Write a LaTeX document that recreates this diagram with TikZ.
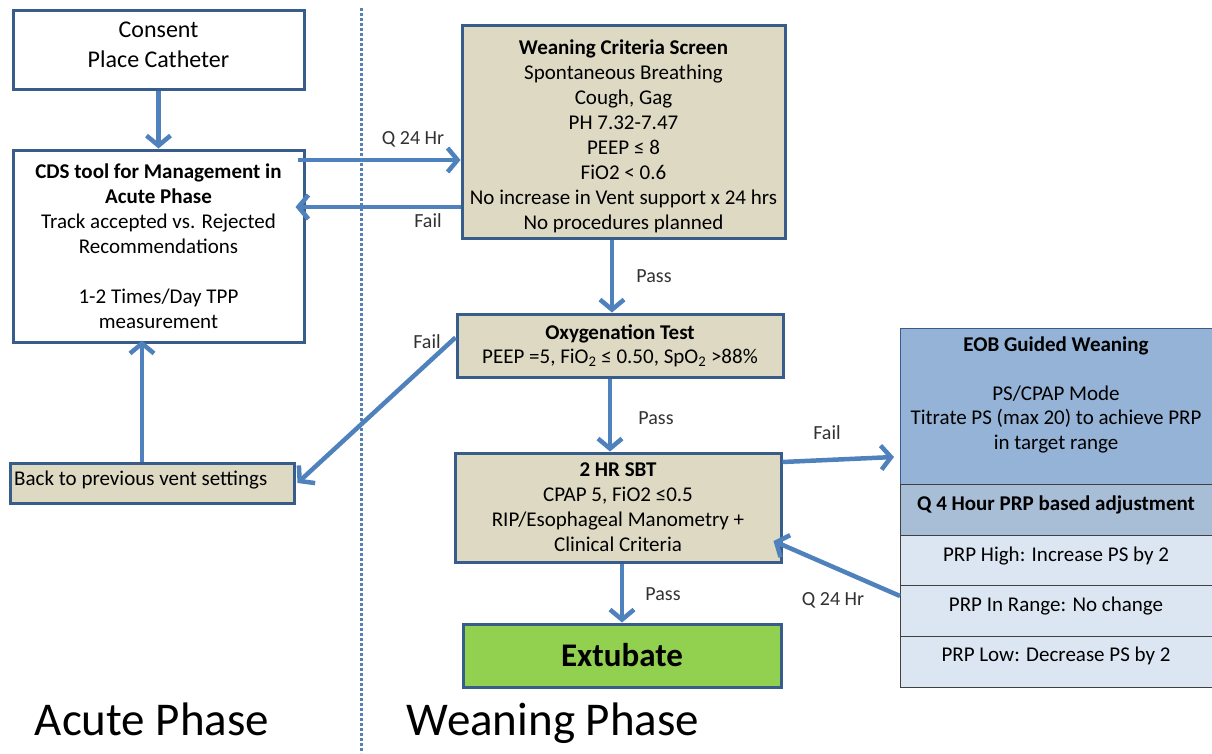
\documentclass[tikz,border=0pt]{standalone}
\usepackage{fontspec}
\setmainfont{Carlito}
\usetikzlibrary{arrows.meta,calc}
\definecolor{boxc}{RGB}{56,93,138}
\definecolor{arrc}{RGB}{79,129,189}
\definecolor{tan}{RGB}{221,217,195}
\definecolor{grn}{RGB}{146,208,80}
\definecolor{eobc}{RGB}{149,179,215}
\definecolor{qc}{RGB}{168,189,214}
\definecolor{cellc}{RGB}{220,230,242}
\definecolor{labc}{RGB}{50,50,50}
\begin{document}
\begin{tikzpicture}[x=1pt,y=-1pt,
  box/.style={draw=boxc,line width=3pt,inner sep=0pt,align=center,font=\fontsize{21}{25}\selectfont},
  tanbox/.style={box,fill=tan},
  txt/.style={inner sep=0pt,align=center,font=\fontsize{21}{25}\selectfont},
  cell/.style={draw=black!75,line width=1pt,inner sep=0pt,anchor=north west},
  arr/.style={draw=arrc,line width=4.5pt,-{Straight Barb[length=10pt,width=24pt]}},
  lab/.style={text=labc,font=\fontsize{20}{24}\selectfont,inner sep=0pt},
  phase/.style={font=\fontsize{47}{56}\selectfont,inner sep=0pt,anchor=base}]
\useasboundingbox (0,0) rectangle (1212,753);
\fill[white] (0,0) rectangle (1212,753);
% divider
\draw[arrc!85!gray,line width=3pt,dotted] (361,8) -- (361,753);
% coordinates for connector heights / positions
\coordinate (y160) at (0,160);
\coordinate (y207) at (0,207);
\coordinate (y462) at (0,462);
\coordinate (y457) at (0,457);
\coordinate (y596) at (0,596);
\coordinate (y541) at (0,541);
\coordinate (x142) at (142,0);
\coordinate (x612) at (612,0);
\coordinate (x610) at (610,0);
\coordinate (x622) at (622,0);
% boxes
\node[box,fill=white,minimum width=291pt,minimum height=79pt] (consent) at (158.5,49.5) {};
\node[txt,font=\fontsize{24}{30}\selectfont] (consenttxt) at (158.5,45) {Consent\\Place Catheter};
\node[box,fill=white,minimum width=291pt,minimum height=192pt] (cds) at (158.5,246)
  {\textbf{CDS tool for Management in}\\\textbf{Acute Phase}\\Track accepted vs. Rejected\\Recommendations\\[25pt]1-2 Times/Day TPP\\measurement};
\node[tanbox,minimum width=284pt,minimum height=40pt] (back) at (152,483) {};
\node[txt,anchor=west] (backtxt) at (14,480) {Back to previous vent settings};
\node[tanbox,minimum width=323pt,minimum height=213pt] (wean) at (623.5,131.5) {};
\node[txt] (weantxt) at (623.5,136)
  {\textbf{Weaning Criteria Screen}\\Spontaneous Breathing\\Cough, Gag\\PH 7.32-7.47\\PEEP ≤ 8\\FiO2 < 0.6\\No increase in Vent support x 24 hrs\\No procedures planned};
\node[tanbox,minimum width=326pt,minimum height=63pt,font=\fontsize{21}{24}\selectfont] (oxy) at (620,345.5)
  {\textbf{Oxygenation Test}\\PEEP =5, FiO\textsubscript{2} ≤ 0.50, SpO\textsubscript{2} >88\%};
\node[tanbox,minimum width=326pt,minimum height=109pt] (sbt) at (618,507.5)
  {\textbf{2 HR SBT}\\CPAP 5, FiO2 ≤0.5\\RIP/Esophageal Manometry +\\Clinical Criteria};
\node[box,fill=grn,minimum width=318pt,minimum height=63pt,font=\bfseries\fontsize{33}{36}\selectfont] (ext) at (622,655.5) {Extubate};
% EOB table
\node[cell,fill=eobc,draw=boxc,minimum width=316pt,minimum height=156pt] (eob) at (900,328) {};
\node[txt,font=\fontsize{21}{24.5}\selectfont] (eobtxt) at (1056,395)
  {\textbf{EOB Guided Weaning}\\[24pt]PS/CPAP Mode\\Titrate PS (max 20) to achieve PRP\\in target range};
\node[cell,fill=qc,minimum width=316pt,minimum height=51pt] (q4) at (900,484) {};
\node[txt,font=\bfseries\fontsize{21}{24}\selectfont] (q4txt) at (1056,505) {Q 4 Hour PRP based adjustment};
\node[cell,fill=cellc,minimum width=316pt,minimum height=50pt] (high) at (900,535) {};
\node[txt] (hightxt) at (1056,556) {PRP High: Increase PS by 2};
\node[cell,fill=cellc,minimum width=316pt,minimum height=51pt] (inr) at (900,585) {};
\node[txt] (inrtxt) at (1056,606) {PRP In Range: No change};
\node[cell,fill=cellc,minimum width=316pt,minimum height=51pt] (low) at (900,636) {};
\node[txt] (lowtxt) at (1056,656) {PRP Low: Decrease PS by 2};
% connectors
\draw[arr] (consent.south) -- (cds.north);
\draw[arr] ([xshift=-8pt]cds.east |- y160) -- (wean.west |- y160);
\draw[arr] (wean.west |- y207) -- ([xshift=-10pt]cds.east |- y207);
\draw[arr] (wean.south -| x612) -- (oxy.north -| x612);
\draw[arr] ([yshift=8pt]oxy.west) -- ([xshift=2pt]back.east);
\draw[arr] (back.north -| x142) -- ([yshift=3pt]cds.south -| x142);
\draw[arr] (oxy.south -| x610) -- (sbt.north -| x610);
\draw[arr] (sbt.east |- y462) -- ([xshift=-6pt]eob.west |- y457);
\draw[arr] (sbt.south -| x622) -- (ext.north -| x622);
\draw[arr] (inr.west |- y596) -- ([xshift=-9pt]sbt.east |- y541);
% connector labels
\node[lab] (l1) at (413,139) {Q 24 Hr};
\node[lab] (l2) at (428,221) {Fail};
\node[lab] (l3) at (654,276) {Pass};
\node[lab] (l4) at (427,342) {Fail};
\node[lab] (l5) at (656,418) {Pass};
\node[lab] (l6) at (827,433) {Fail};
\node[lab] (l7) at (663,594) {Pass};
\node[lab] (l8) at (833,600) {Q 24 Hr};
% phase titles
\node[phase] (acute) at (152,735) {Acute Phase};
\node[phase] (weanph) at (553,735) {Weaning Phase};
\end{tikzpicture}
\end{document}
